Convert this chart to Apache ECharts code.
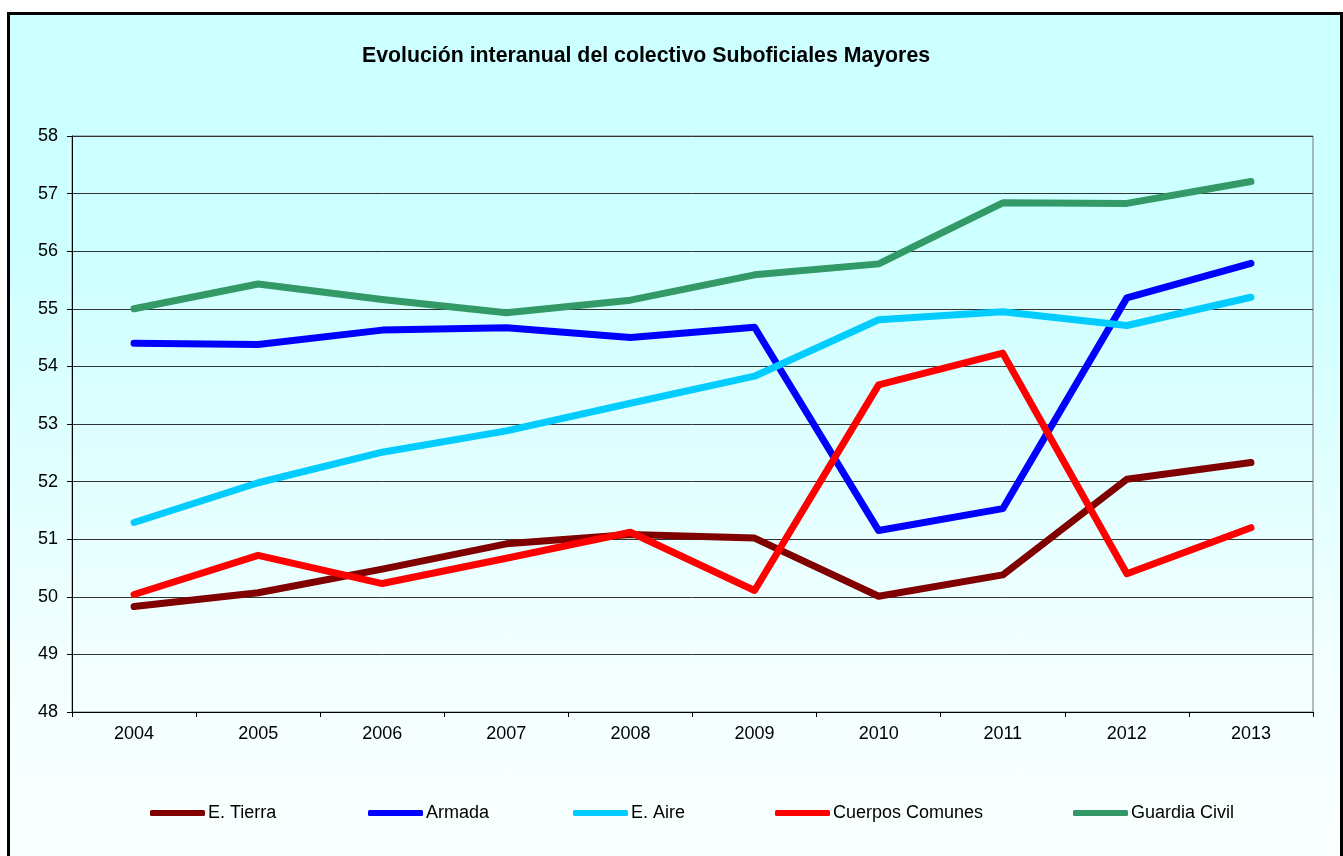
<!DOCTYPE html>
<html>
<head>
<meta charset="utf-8">
<script src="https://cdn.jsdelivr.net/npm/echarts@6/dist/echarts.min.js"></script>
<style>
  html, body { margin: 0; padding: 0; background: #fff; overflow: hidden; }
  #frame {
    position: absolute; left: 7px; top: 12px; width: 1330px; height: 860px;
    border: 3px solid #000;
    background: linear-gradient(#ccffff 0%, #ccffff 25%, #f2ffff 75%, #fbffff 100%);
  }
  #chart { position: absolute; left: 0; top: 0; width: 1343px; height: 856px; }
</style>
</head>
<body>
<div id="frame"></div>
<div id="chart"></div>
<script>
var years = ['2004', '2005', '2006', '2007', '2008', '2009', '2010', '2011', '2012', '2013'];
var tierra = [49.83, 50.07, 50.48, 50.92, 51.08, 51.02, 50.01, 50.38, 52.04, 52.33];
var armada = [54.40, 54.38, 54.63, 54.67, 54.50, 54.68, 51.15, 51.53, 55.19, 55.79];
var aire = [51.29, 51.98, 52.51, 52.88, 53.36, 53.83, 54.81, 54.95, 54.71, 55.20];
var comunes = [50.04, 50.72, 50.23, 50.67, 51.12, 50.11, 53.68, 54.23, 50.40, 51.20];
var guardia = [55.00, 55.43, 55.16, 54.93, 55.15, 55.59, 55.78, 56.84, 56.83, 57.21];

var names = ['E. Tierra', 'Armada', 'E. Aire', 'Cuerpos Comunes', 'Guardia Civil'];
var colors = ['#800000', '#0000ff', '#00ccff', '#ff0000', '#339966'];
var legendLeft = [145, 363, 568, 770, 1068];

var font = 'Arial, "Liberation Sans", sans-serif';

var chart = echarts.init(document.getElementById('chart'));

var legends = names.map(function (n, i) {
    return {
        data: [n],
        left: legendLeft[i],
        top: 799,
        icon: 'roundRect',
        itemWidth: 55,
        itemHeight: 6,
        textStyle: { color: '#000', fontSize: 18, fontFamily: font, padding: [0, 0, 0, -2] }
    };
});

var series = [tierra, armada, aire, comunes, guardia].map(function (d, i) {
    return {
        name: names[i],
        type: 'line',
        data: d,
        showSymbol: false,
        symbol: 'none',
        color: colors[i],
        lineStyle: { width: 7, color: colors[i], cap: 'round', join: 'round' },
        emphasis: { disabled: true }
    };
});

chart.setOption({
    animation: false,
    backgroundColor: 'transparent',
    title: {
        text: 'Evolución interanual del colectivo Suboficiales Mayores',
        left: 357,
        top: 41,
        textStyle: { fontSize: 21.3, fontWeight: 'bold', color: '#000', fontFamily: font }
    },
    legend: legends,
    grid: {
        left: 72, right: 30, top: 136, bottom: 144,
        show: true, borderColor: '#777', borderWidth: 1, backgroundColor: 'transparent'
    },
    xAxis: {
        type: 'category',
        data: years,
        boundaryGap: true,
        axisLine: { lineStyle: { color: '#000', width: 1 } },
        axisTick: { show: true, length: 5, lineStyle: { color: '#000' } },
        axisLabel: { color: '#000', fontSize: 18, fontFamily: font, margin: 13 },
        splitLine: { show: false }
    },
    yAxis: {
        type: 'value',
        min: 48,
        max: 58,
        interval: 1,
        axisLine: { show: true, lineStyle: { color: '#000', width: 1 } },
        axisTick: { show: true, length: 5, lineStyle: { color: '#000' } },
        axisLabel: { color: '#000', fontSize: 18, fontFamily: font, margin: 14 },
        splitLine: { show: true, lineStyle: { color: '#333', width: 1 } }
    },
    series: series
});
</script>
</body>
</html>
